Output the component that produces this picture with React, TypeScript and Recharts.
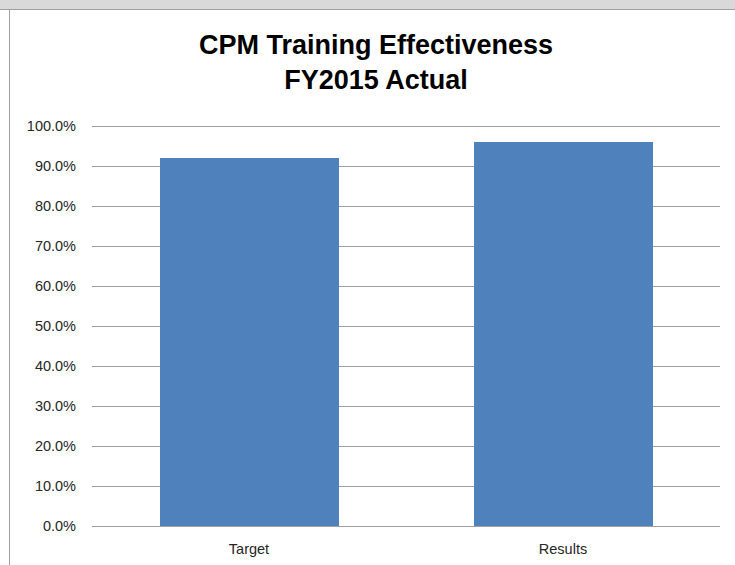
import { BarChart, Bar, XAxis, YAxis, CartesianGrid } from 'recharts'

const categories = ['Target', 'Results']
const values = [0.92, 0.96]
const yTicks = [0, 0.1, 0.2, 0.3, 0.4, 0.5, 0.6, 0.7, 0.8, 0.9, 1.0]
const titleLines = ['CPM Training Effectiveness', 'FY2015 Actual']

const data = categories.map((name, i) => ({ name, value: values[i] }))

const font = '"Liberation Sans", Arial, sans-serif'

export default function App() {
  return (
    <div style={{ position: 'fixed', left: 0, top: 0, width: 735, height: 565, background: '#fff', overflow: 'hidden', zIndex: 10 }}>
      <div style={{ position: 'absolute', left: 0, top: 0, width: 735, height: 9, background: '#d9d9d9', borderBottom: '1px solid #a0a0a0' }} />
      <div style={{ position: 'absolute', left: 9, top: 9, width: 1, height: 556, background: '#a0a0a0' }} />
      <div
        style={{
          position: 'absolute',
          left: 0,
          width: 752,
          top: 28,
          textAlign: 'center',
          fontFamily: font,
          fontWeight: 700,
          fontSize: 27,
          lineHeight: '35px',
          color: '#000',
        }}
      >
        {titleLines.map((t) => (
          <div key={t}>{t}</div>
        ))}
      </div>
      <div style={{ position: 'absolute', left: 0, top: 0 }}>
        <BarChart width={735} height={565} data={data} margin={{ top: 126, right: 15, bottom: 9, left: 12 }} barSize={179}>
          <CartesianGrid vertical={false} stroke="#a0a0a0" strokeWidth={1} shapeRendering="crispEdges" />
          <XAxis
            dataKey="name"
            height={30}
            axisLine={{ stroke: '#a0a0a0', shapeRendering: 'crispEdges' }}
            tickLine={false}
            tickSize={0}
            tickMargin={18}
            tick={{ fill: '#262626', fontSize: 14.5, fontFamily: font }}
          />
          <YAxis
            width={80}
            domain={[0, 1]}
            ticks={yTicks}
            tickFormatter={(v: number) => `${(v * 100).toFixed(1)}%`}
            axisLine={false}
            tickLine={false}
            tickSize={0}
            tickMargin={16}
            tick={{ fill: '#262626', fontSize: 14.5, fontFamily: font }}
          />
          <Bar dataKey="value" fill="#4f81bd" isAnimationActive={false} />
        </BarChart>
      </div>
    </div>
  )
}
